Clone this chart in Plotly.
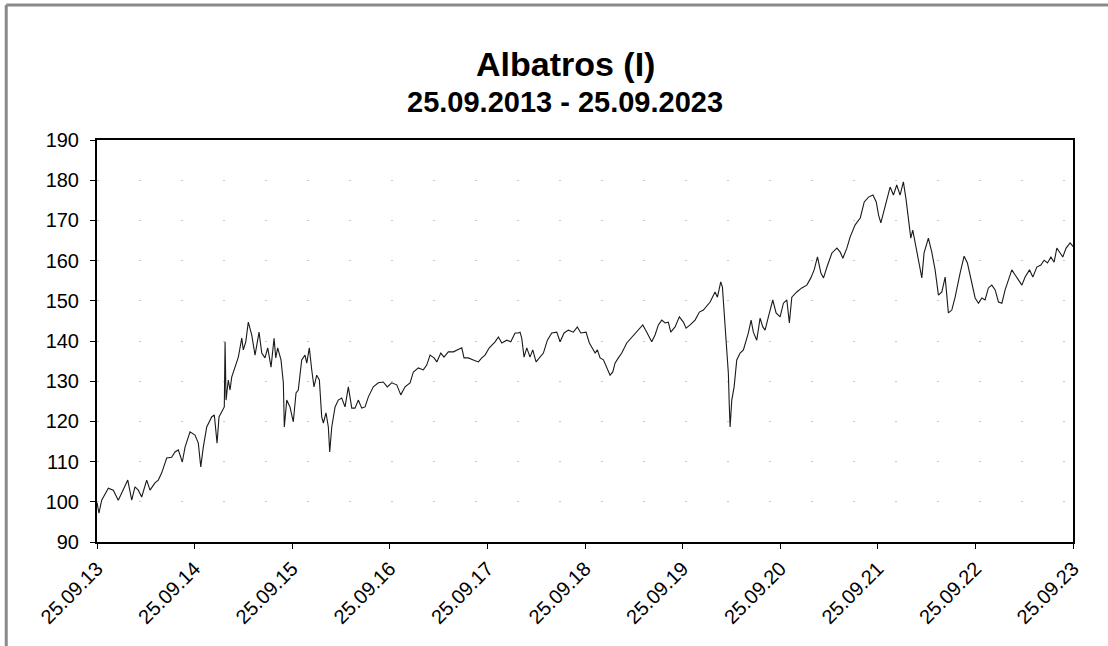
import pandas as pd
import plotly.graph_objects as go

title = "Albatros (I)"
subtitle = "25.09.2013 - 25.09.2023"
start_date = "2013-09-25"
end_date = "2023-09-25"

# time offsets in years since 25.09.2013 and fund values
years_offset = [
    0.000, 0.020, 0.048, 0.116, 0.167, 0.218, 0.253, 0.315, 0.356, 0.389, 0.423, 0.458, 0.509, 0.543,
    0.594, 0.628, 0.663, 0.714, 0.765, 0.799, 0.833, 0.874, 0.902, 0.953, 1.004, 1.038, 1.063, 1.089,
    1.124, 1.175, 1.202, 1.216, 1.230, 1.250, 1.278, 1.304, 1.312, 1.322, 1.345, 1.363, 1.380, 1.414,
    1.448, 1.483, 1.499, 1.524, 1.550, 1.585, 1.619, 1.660, 1.688, 1.721, 1.749, 1.783, 1.814, 1.831,
    1.851, 1.885, 1.909, 1.919, 1.944, 1.977, 2.011, 2.039, 2.062, 2.097, 2.131, 2.149, 2.175, 2.200,
    2.223, 2.251, 2.278, 2.302, 2.319, 2.346, 2.370, 2.384, 2.405, 2.439, 2.472, 2.507, 2.541, 2.575,
    2.610, 2.643, 2.677, 2.712, 2.746, 2.780, 2.831, 2.882, 2.933, 2.974, 3.019, 3.071, 3.112, 3.156,
    3.207, 3.241, 3.292, 3.343, 3.378, 3.412, 3.453, 3.481, 3.522, 3.555, 3.599, 3.651, 3.702, 3.737,
    3.760, 3.804, 3.855, 3.907, 3.942, 3.975, 4.019, 4.078, 4.112, 4.147, 4.198, 4.239, 4.283, 4.317,
    4.334, 4.351, 4.375, 4.403, 4.436, 4.464, 4.498, 4.539, 4.573, 4.614, 4.659, 4.710, 4.744, 4.785,
    4.829, 4.880, 4.921, 4.956, 5.010, 5.044, 5.069, 5.103, 5.126, 5.154, 5.188, 5.222, 5.256, 5.284,
    5.307, 5.341, 5.376, 5.427, 5.479, 5.530, 5.591, 5.632, 5.683, 5.717, 5.751, 5.786, 5.820, 5.853,
    5.878, 5.922, 5.966, 6.007, 6.035, 6.076, 6.127, 6.171, 6.212, 6.281, 6.332, 6.356, 6.390, 6.407,
    6.427, 6.452, 6.468, 6.478, 6.486, 6.503, 6.527, 6.554, 6.588, 6.622, 6.650, 6.673, 6.701, 6.724,
    6.759, 6.793, 6.821, 6.844, 6.878, 6.923, 6.957, 6.998, 7.032, 7.067, 7.093, 7.118, 7.169, 7.220,
    7.272, 7.313, 7.347, 7.381, 7.416, 7.443, 7.478, 7.529, 7.580, 7.614, 7.641, 7.682, 7.716, 7.767,
    7.819, 7.860, 7.904, 7.949, 7.983, 8.007, 8.030, 8.057, 8.098, 8.125, 8.159, 8.193, 8.227, 8.261,
    8.289, 8.312, 8.337, 8.357, 8.381, 8.415, 8.450, 8.473, 8.517, 8.552, 8.586, 8.620, 8.655, 8.689,
    8.722, 8.757, 8.791, 8.842, 8.883, 8.917, 8.952, 8.996, 9.030, 9.065, 9.098, 9.132, 9.167, 9.201,
    9.235, 9.270, 9.303, 9.338, 9.372, 9.406, 9.441, 9.475, 9.508, 9.553, 9.587, 9.628, 9.669, 9.703,
    9.737, 9.772, 9.805, 9.833, 9.867, 9.894, 9.928, 9.969, 9.986, 10.000,
]
values = [
    99.8, 97.2, 100.4, 103.4, 102.9, 100.4, 102.2, 105.4, 100.4, 103.7, 102.9, 101.2, 105.4, 102.9,
    104.7, 105.4, 107.2, 110.9, 111.1, 112.4, 112.9, 109.9, 113.6, 117.4, 116.6, 114.6, 108.7, 113.6,
    118.6, 121.1, 121.6, 118.6, 114.6, 121.1, 122.3, 123.6, 139.8, 125.3, 130.3, 127.8, 131.0, 133.5,
    136.0, 140.7, 137.8, 139.8, 144.7, 141.5, 136.5, 142.2, 137.0, 135.8, 138.3, 133.5, 140.7, 135.8,
    138.3, 135.3, 129.6, 118.6, 125.3, 123.6, 119.9, 127.1, 127.8, 135.3, 136.5, 134.5, 138.3, 132.8,
    128.6, 131.5, 130.3, 121.1, 119.6, 122.1, 118.6, 112.4, 118.6, 123.6, 125.3, 125.8, 123.6, 128.6,
    123.3, 123.3, 125.3, 123.3, 123.6, 126.1, 128.6, 129.6, 129.8, 128.6, 129.6, 129.1, 126.6, 128.6,
    129.6, 132.3, 133.3, 132.8, 134.0, 136.5, 135.8, 134.8, 137.0, 136.0, 137.3, 137.3, 137.8, 138.3,
    135.8, 135.8, 135.3, 134.8, 135.8, 136.5, 138.3, 139.8, 141.0, 139.5, 140.2, 139.8, 142.0, 142.0,
    142.2, 140.7, 136.0, 138.3, 136.0, 137.8, 134.8, 136.0, 137.0, 140.2, 142.0, 142.2, 139.8, 142.0,
    142.7, 142.2, 143.5, 142.0, 142.2, 139.5, 138.5, 137.0, 137.8, 135.8, 135.3, 133.3, 131.5, 132.3,
    134.5, 135.8, 137.0, 139.5, 141.0, 142.2, 144.0, 142.2, 139.8, 141.5, 144.0, 145.2, 144.5, 144.7,
    142.2, 143.5, 146.0, 144.7, 143.2, 144.0, 145.2, 147.2, 147.7, 149.7, 152.2, 150.9, 154.7, 153.4,
    147.0, 138.5, 132.0, 123.6, 118.6, 125.3, 128.6, 135.3, 137.0, 137.8, 139.8, 142.0, 145.2, 142.2,
    140.2, 145.7, 143.5, 142.7, 146.0, 150.2, 147.0, 146.0, 149.4, 150.2, 144.5, 150.9, 152.2, 153.2,
    153.9, 155.7, 157.7, 160.9, 156.9, 155.7, 158.4, 161.9, 163.1, 162.1, 160.6, 163.1, 165.9, 168.9,
    170.6, 174.6, 175.8, 176.3, 174.6, 171.3, 169.4, 171.8, 175.8, 178.3, 176.3, 178.8, 176.3, 179.6,
    175.1, 170.1, 165.6, 167.6, 164.4, 160.6, 155.7, 161.9, 165.6, 162.1, 157.7, 151.4, 152.2, 155.9,
    147.0, 147.7, 150.9, 156.9, 161.1, 159.4, 155.2, 150.7, 149.4, 150.7, 150.2, 153.2, 153.9, 152.7,
    149.7, 149.4, 152.7, 155.2, 157.7, 156.4, 155.2, 153.9, 155.9, 157.7, 155.9, 158.4, 158.9, 160.1,
    159.4, 160.9, 159.6, 163.1, 161.9, 160.9, 163.1, 164.4, 163.9, 163.5,
]

tick_dates = ["2013-09-25", "2014-09-25", "2015-09-25", "2016-09-25", "2017-09-25", "2018-09-25",
              "2019-09-25", "2020-09-25", "2021-09-25", "2022-09-25", "2023-09-25"]
tick_labels = ["25.09.13", "25.09.14", "25.09.15", "25.09.16", "25.09.17", "25.09.18",
               "25.09.19", "25.09.20", "25.09.21", "25.09.22", "25.09.23"]
y_ticks = [90, 100, 110, 120, 130, 140, 150, 160, 170, 180, 190]

t0 = pd.Timestamp(start_date)
dates = [t0 + pd.to_timedelta(t * 365.25, unit="D") for t in years_offset]

fig = go.Figure()
fig.add_trace(go.Scatter(x=dates, y=values, mode="lines",
                         line=dict(color="#1a1a1a", width=1.1), hoverinfo="x+y",
                         showlegend=False))

font_family = "Arial, 'Liberation Sans', sans-serif"

fig.update_layout(
    width=1108, height=646,
    margin=dict(l=97, r=35, t=140, b=104),
    paper_bgcolor="white", plot_bgcolor="white",
    font=dict(family=font_family, color="black", size=20),
    showlegend=False,
)
fig.update_xaxes(
    range=[start_date, end_date], tickmode="array", tickvals=tick_dates, ticktext=tick_labels,
    tickangle=-45, ticks="outside", ticklen=5, tickwidth=1, tickcolor="black",
    showline=True, linecolor="black", linewidth=2, mirror=True, showgrid=False, zeroline=False,
    tickfont=dict(size=20), automargin=False,
)
fig.update_yaxes(
    range=[90, 190], tickmode="array", tickvals=y_ticks, ticks="outside", ticklen=5, tickwidth=1,
    tickcolor="black", showline=True, linecolor="black", linewidth=2, mirror=True,
    showgrid=True, gridcolor="#c8c8c8", gridwidth=1, griddash="2px,40px", zeroline=False,
    tickfont=dict(size=20), ticklabelstandoff=7, automargin=False,
)

fig.add_annotation(text="<b>" + title + "</b>", xref="paper", yref="paper", x=0.48, y=1.19,
                   showarrow=False, font=dict(size=34, family=font_family), xanchor="center", yanchor="middle")
fig.add_annotation(text="<b>" + subtitle + "</b>", xref="paper", yref="paper", x=0.48, y=1.094,
                   showarrow=False, font=dict(size=29, family=font_family), xanchor="center", yanchor="middle")

# scanned page frame (top and left edges)
fig.add_shape(type="line", xref="paper", yref="paper", x0=-0.093, x1=-0.093, y0=-0.3, y1=1.336,
              line=dict(color="#8a8a8a", width=3))
fig.add_shape(type="line", xref="paper", yref="paper", x0=-0.093, x1=1.1, y0=1.336, y1=1.336,
              line=dict(color="#8a8a8a", width=3))

fig.write_html("out.html", post_script="document.body.style.margin='0';",
               config={"displayModeBar": False})
